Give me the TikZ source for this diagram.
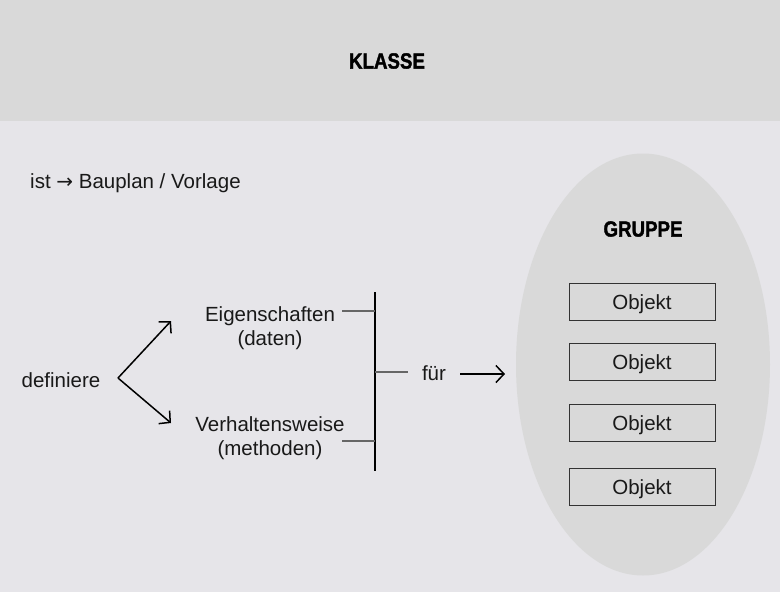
\documentclass[tikz,border=0pt]{standalone}
\usepackage{fontspec}
\setmainfont{Liberation Sans}
\newfontfamily\headfont[FakeStretch=0.85,FakeBold=1.6]{Liberation Sans Bold}
\newfontfamily\symfont{DejaVu Sans}
\usetikzlibrary{arrows.meta}
\definecolor{bgc}{HTML}{E6E5E9}
\definecolor{bandc}{HTML}{D9D9D9}
\definecolor{linec}{HTML}{666666}
\definecolor{boxc}{HTML}{333333}
\begin{document}
\begin{tikzpicture}[x=1pt,y=-1pt,
  txt/.style={font=\fontsize{20.5}{25}\selectfont, text=black!90, inner sep=0pt, align=center},
  head/.style={font=\headfont\fontsize{22}{26}\selectfont, inner sep=0pt},
  objbox/.style={draw=boxc, line width=1pt, minimum width=146pt, minimum height=37pt, inner sep=0pt, text height=19pt, text depth=4pt, text=black!90, font=\fontsize{20.5}{25}\selectfont},
  grayline/.style={draw=linec, line width=2pt},
  blackline/.style={draw=black, line width=1.5pt},
  chev/.style={-{Straight Barb[length=8pt,width=17pt,line width=1.5pt]}, line width=1.5pt}
]
\useasboundingbox (0,0) rectangle (780,592);
\fill[bgc] (0,0) rectangle (780,592);
\fill[bandc] (0,0) rectangle (780,121);
\node[head] (klasse) at (387,61) {KLASSE};

\node[txt, anchor=west] (ist) at (30,183) {ist {\symfont\fontsize{20}{24}\selectfont →} Bauplan / Vorlage};

% group ellipse
\fill[bandc] (643,364.5) ellipse [x radius=127, y radius=211];
\node[head] (gruppe) at (643,229) {GRUPPE};
\node[objbox] (o1) at (642,302) {Objekt};
\node[objbox] (o2) at (642,362) {Objekt};
\node[objbox] (o3) at (642,423) {Objekt};
\node[objbox] (o4) at (642,487) {Objekt};

% left part
\node[txt] (def) at (61,380) {definiere};
\coordinate (fork) at (118,378);
\coordinate (up) at (171,321);
\coordinate (dn) at (171,423);
\draw[chev] (fork) -- (up);
\draw[chev] (fork) -- (dn);

\node[txt] (eig) at (270,328) {Eigenschaften\\[-1pt](daten)};
\node[txt] (verh) at (270,438) {Verhaltensweise\\[-1pt](methoden)};

\coordinate (vtop) at (375,292);
\coordinate (vbot) at (375,471);
\draw[blackline] (vtop) -- (vbot);
\coordinate (e1) at (342,311);
\coordinate (e2) at (375,311);
\coordinate (m1) at (342,441);
\coordinate (m2) at (375,441);
\coordinate (f1) at (375,372);
\coordinate (f2) at (408,372);
\draw[grayline] (e1) -- (e2);
\draw[grayline] (m1) -- (m2);
\draw[grayline] (f1) -- (f2);

\node[txt] (fuer) at (434,373) {für};
\coordinate (a1) at (460,374);
\coordinate (a2) at (505,374);
\draw[chev] (a1) -- (a2);
\end{tikzpicture}
\end{document}
